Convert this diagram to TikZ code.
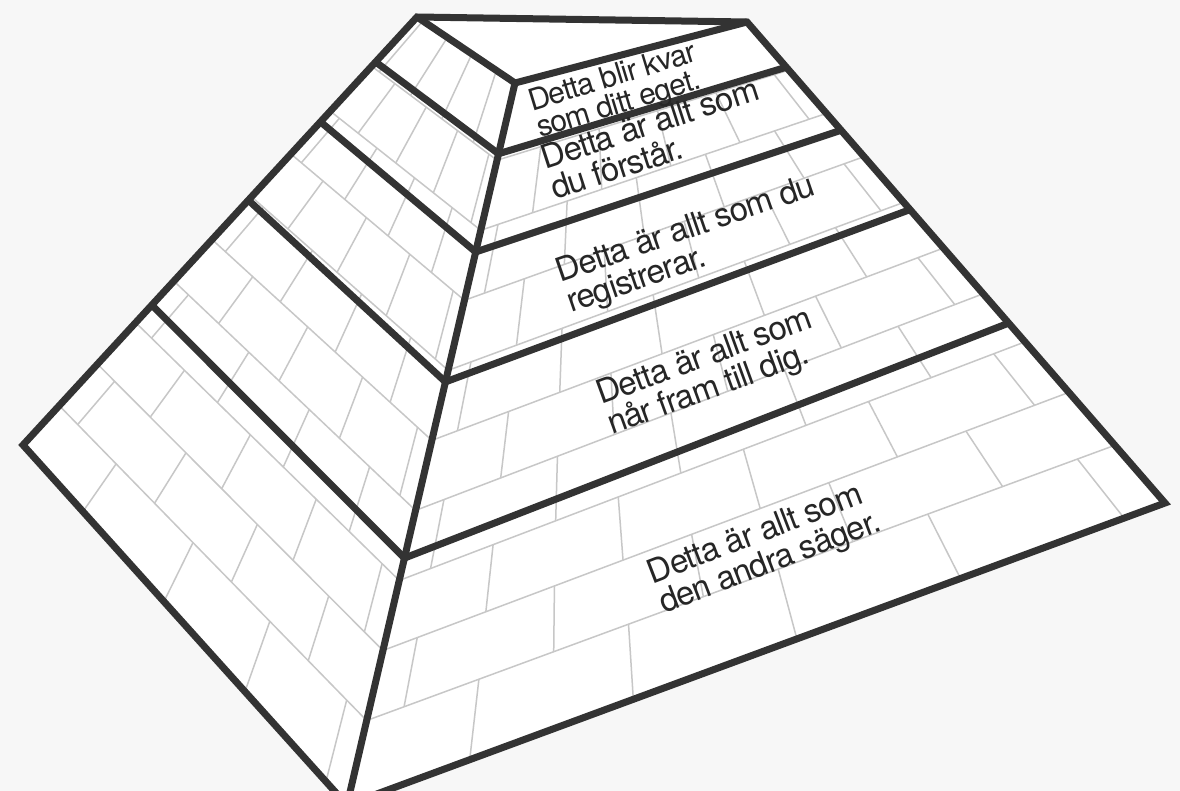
\documentclass[tikz,border=0pt]{standalone}
\usepackage{fontspec}
\setmainfont[LetterSpace=-3]{TeX Gyre Heros}
\usetikzlibrary{calc}

\begin{document}
\begin{tikzpicture}[x=1pt,y=-1pt,edge/.style={draw=black!80,line width=7pt,line join=miter},brick/.style={draw=black!22,line width=1.5pt},label/.style={font=\fontsize{33}{32}\selectfont,text=black!85,align=left,anchor=base west,inner sep=0pt}]
\fill[black!3] (0,0) rectangle (1180,791);
\useasboundingbox (0,0) rectangle (1180,791);
\clip (0,0) rectangle (1180,791);
\coordinate (tl) at (417,17);
\coordinate (tr) at (747,22);
\coordinate (tm) at (515,83);
\coordinate (lc) at (23,445);
\coordinate (bc) at (347,805);
\coordinate (rc) at (1165,503);
\fill[white] (tl) -- (tr) -- (rc) -- (bc) -- (lc) -- cycle;
\foreach \k/\tL/\tM/\tR in {0/0/0/0,1/0.115/0.107/0.100,2/0.22/0.204/0.19,3/0.32/0.301/0.28,4/0.42/0.398/0.375,5/0.52/0.495/0.47,6/0.617/0.592/0.565,7/0.714/0.689/0.665,8/0.811/0.786/0.77,9/0.908/0.883/0.88,10/1/1/1}{
  \coordinate (l\k) at ($(tl)!\tL!(lc)$);
  \coordinate (m\k) at ($(tm)!\tM!(bc)$);
  \coordinate (r\k) at ($(tr)!\tR!(rc)$);
}
\foreach \k in {1,...,9}{
  \draw[brick] (l\k) -- (m\k) -- (r\k);
}
\foreach \k [count=\kk from 1] in {0,...,9}{
  \pgfmathsetmacro\off{0.06+mod(\k,2)*0.125}
  \foreach \j in {0,...,3}{
    \pgfmathsetmacro\u{\off+0.25*\j}
    \draw[brick] ($(l\k)!\u!(m\k)$) -- ($(l\kk)!\u!(m\kk)$);
  }
}
\foreach \k [count=\kk from 2] in {1,...,9}{
  \pgfmathsetmacro\off{0.05+mod(\k,2)*0.1}
  \foreach \j in {0,...,4}{
    \pgfmathsetmacro\u{\off+0.2*\j}
    \draw[brick] ($(m\k)!\u!(r\k)$) -- ($(m\kk)!\u!(r\kk)$);
  }
}
\coordinate (a1) at ($(tl)!0.105!(lc)$);
\coordinate (a2) at ($(tm)!0.098!(bc)$);
\coordinate (a3) at ($(tr)!0.094!(rc)$);
\coordinate (b1) at ($(tl)!0.245!(lc)$);
\coordinate (b2) at ($(tm)!0.234!(bc)$);
\coordinate (b3) at ($(tr)!0.225!(rc)$);
\coordinate (c1) at ($(tl)!0.428!(lc)$);
\coordinate (c2) at ($(tm)!0.414!(bc)$);
\coordinate (c3) at ($(tr)!0.39!(rc)$);
\coordinate (d1) at ($(tl)!0.673!(lc)$);
\coordinate (d2) at ($(tm)!0.658!(bc)$);
\coordinate (d3) at ($(tr)!0.626!(rc)$);
\draw[edge] (a1) -- (a2) -- (a3);
\draw[edge] (b1) -- (b2) -- (b3);
\draw[edge] (c1) -- (c2) -- (c3);
\draw[edge] (d1) -- (d2) -- (d3);
\draw[edge] (tm) -- (bc);
\draw[edge] (tl) -- (tm) -- (tr);
\draw[edge] (tl) -- (tr) -- (rc) -- (bc) -- (lc) -- cycle;
\node[label,font=\fontsize{30}{28}\selectfont,rotate=17] (kvar) at (540,138) {Detta blir kvar\\som ditt eget.};
\node[label,rotate=18] (forstar) at (555,200) {Detta är allt som\\du förstår.};
\node[label,rotate=19] (registrerar) at (571,313) {Detta är allt som du\\registrerar.};
\node[label,rotate=20] (framtill) at (612,435) {Detta är allt som\\når fram till dig.};
\node[label,rotate=21] (sager) at (664,614) {Detta är allt som\\den andra säger.};
\end{tikzpicture}
\end{document}
